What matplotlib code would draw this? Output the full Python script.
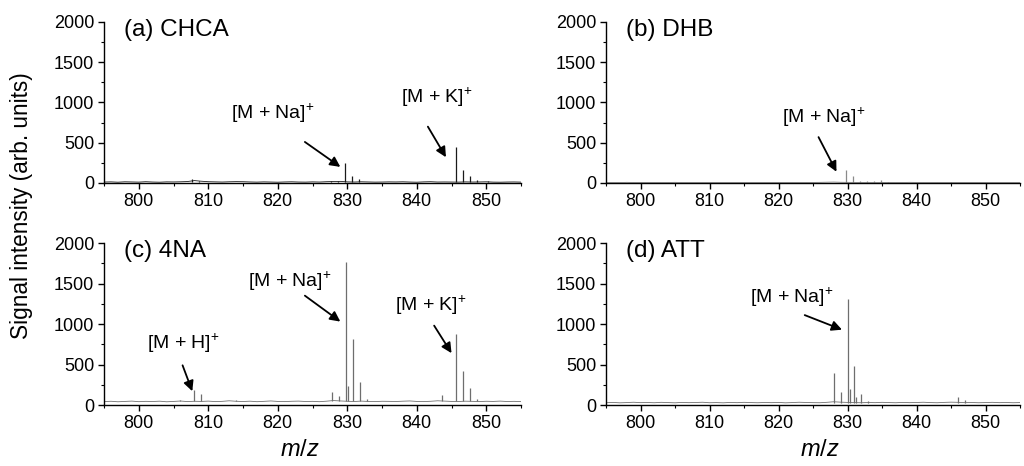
"""Four-panel MALDI spectra (CHCA, DHB, 4NA, ATT) with adduct annotations."""

import numpy as np
import matplotlib
matplotlib.use("Agg")
import matplotlib.pyplot as plt
from matplotlib.ticker import MultipleLocator

plt.rcParams["font.family"] = ["Liberation Sans", "DejaVu Sans"]
plt.rcParams["mathtext.fontset"] = "custom"
plt.rcParams["mathtext.rm"] = "Liberation Sans"
plt.rcParams["mathtext.it"] = "Liberation Sans:italic"

# baseline readings, one per integer m/z from 795 to 855
MZ_GRID = np.arange(795, 856)

base_a = [12, 14, 10, 15, 13, 11, 16, 12, 10, 14, 13, 15, 18, 30, 22, 16,
          14, 12, 15, 17, 16, 13, 11, 14, 12, 10, 13, 15, 12, 11, 14, 12,
          16, 18, 20, 14, 12, 15, 13, 11, 12, 14, 13, 15, 12, 10, 14, 16,
          12, 13, 12, 11, 14, 12, 13, 15, 11, 10, 12, 13, 11]
base_b = [6, 7, 5, 8, 6, 5, 7, 6, 5, 6, 8, 6, 5, 7, 6, 5,
          6, 7, 5, 6, 6, 5, 7, 6, 5, 6, 7, 6, 5, 6, 7, 8,
          10, 12, 9, 8, 7, 6, 5, 6, 7, 6, 5, 6, 8, 7, 6, 5,
          6, 7, 6, 5, 6, 7, 5, 6, 6, 5, 7, 6, 5]
base_c = [42, 46, 40, 44, 48, 41, 45, 43, 47, 40, 44, 49, 42, 46, 44, 48,
          42, 45, 52, 46, 43, 47, 41, 45, 50, 44, 42, 46, 48, 43, 45, 41,
          47, 55, 50, 46, 43, 48, 44, 42, 46, 45, 43, 47, 50, 44, 42, 46,
          52, 48, 44, 43, 47, 45, 42, 46, 44, 48, 43, 45, 42]
base_d = [28, 32, 27, 30, 34, 29, 31, 28, 33, 30, 27, 32, 29, 31, 34, 28,
          30, 27, 32, 29, 33, 30, 28, 31, 29, 32, 27, 30, 34, 31, 29, 28,
          33, 40, 35, 32, 30, 28, 31, 29, 33, 30, 28, 32, 29, 31, 34, 30,
          28, 32, 35, 33, 29, 31, 28, 30, 33, 29, 31, 28, 30]

# isotope / adduct peaks: position and apex height
peak_mz_a = [807.7, 808.7, 827.7, 828.7, 829.7, 830.7, 831.7,
             845.7, 846.7, 847.7, 848.7, 850.2]
peak_h_a = [50, 30, 28, 30, 245, 90, 45, 453, 162, 87, 35, 22]

peak_mz_b = [829.8, 830.8, 831.8, 832.8, 833.8, 834.8, 835.8, 845.0]
peak_h_b = [165, 92, 30, 22, 28, 38, 18, 14]

peak_mz_c = [806.0, 807.9, 808.9, 814.0, 827.8, 828.8, 829.8, 830.1,
             830.8, 831.8, 832.8, 843.7, 845.7, 846.7, 847.7, 848.7]
peak_h_c = [65, 185, 130, 65, 155, 110, 1770, 240, 820, 287, 75,
            125, 880, 418, 213, 80]

peak_mz_d = [828.0, 829.0, 830.0, 830.3, 831.0, 831.3, 832.0, 833.0,
             846.0, 847.0]
peak_h_d = [390, 165, 1310, 200, 480, 100, 135, 50, 100, 60]

# (text, text centre, arrow tail, arrow head) in data units
notes_a = [("[M + Na]$^{+}$", (819.3, 870), (823.9, 510), (829.0, 200)),
           ("[M + K]$^{+}$", (842.9, 1070), (841.6, 700), (844.2, 320))]
notes_b = [("[M + Na]$^{+}$", (826.5, 820), (825.8, 570), (828.4, 140))]
notes_c = [("[M + H]$^{+}$", (806.4, 760), (806.3, 490), (807.7, 170)),
           ("[M + Na]$^{+}$", (821.8, 1530), (823.9, 1350), (829.0, 1030)),
           ("[M + K]$^{+}$", (842.1, 1225), (842.5, 980), (845.0, 640))]
notes_d = [("[M + Na]$^{+}$", (821.9, 1335), (823.8, 1110), (829.2, 930))]

panels = [
    ("(a) CHCA", base_a, peak_mz_a, peak_h_a, notes_a, "#1a1a1a", 12),
    ("(b) DHB", base_b, peak_mz_b, peak_h_b, notes_b, "#8a8a8a", 6),
    ("(c) 4NA", base_c, peak_mz_c, peak_h_c, notes_c, "#6e6e6e", 45),
    ("(d) ATT", base_d, peak_mz_d, peak_h_d, notes_d, "#6e6e6e", 30),
]

boxes = [
    [0.1016, 0.6073, 0.4072, 0.3455],
    [0.5918, 0.6073, 0.4043, 0.3455],
    [0.1016, 0.1309, 0.4072, 0.3476],
    [0.5918, 0.1309, 0.4043, 0.3476],
]


def draw_panel(ax, label, base, pk_mz, pk_h, notes, color, level):
    ax.plot(MZ_GRID, base, color=color, lw=0.6)
    ax.vlines(pk_mz, level, pk_h, color=color, lw=0.9)
    for text, txy, tail, head in notes:
        ax.text(txy[0], txy[1], text, fontsize=14, ha="center", va="center")
        ax.annotate("", xy=head, xytext=tail,
                    arrowprops=dict(arrowstyle="-|>", color="black", lw=1.3,
                                    mutation_scale=15, shrinkA=0, shrinkB=0))
    ax.text(0.048, 0.95, label, transform=ax.transAxes, fontsize=17.5,
            ha="left", va="center")
    ax.set_xlim(795, 855)
    ax.set_ylim(0, 2000)
    ax.xaxis.set_major_locator(MultipleLocator(10))
    ax.xaxis.set_minor_locator(MultipleLocator(5))
    ax.yaxis.set_major_locator(MultipleLocator(500))
    ax.yaxis.set_minor_locator(MultipleLocator(250))
    ax.set_xticks([800, 810, 820, 830, 840, 850])
    ax.tick_params(which="major", direction="out", length=4, width=1,
                   labelsize=13, pad=3)
    ax.tick_params(which="minor", direction="out", length=2, width=0.8)
    for side in ("top", "right"):
        ax.spines[side].set_visible(False)
    for side in ("left", "bottom"):
        ax.spines[side].set_linewidth(1.0)


fig = plt.figure(figsize=(10.24, 4.66), dpi=100)
for box, (label, base, pk_mz, pk_h, notes, color, level) in zip(boxes, panels):
    ax = fig.add_axes(box)
    draw_panel(ax, label, base, pk_mz, pk_h, notes, color, level)

fig.text(0.021, 0.558, "Signal intensity (arb. units)", rotation=90,
         ha="center", va="center", fontsize=16.3)
fig.text(0.293, 0.034, "$m$/$z$", ha="center", va="center", fontsize=17)
fig.text(0.801, 0.034, "$m$/$z$", ha="center", va="center", fontsize=17)

fig.savefig("out.png", dpi=100)
